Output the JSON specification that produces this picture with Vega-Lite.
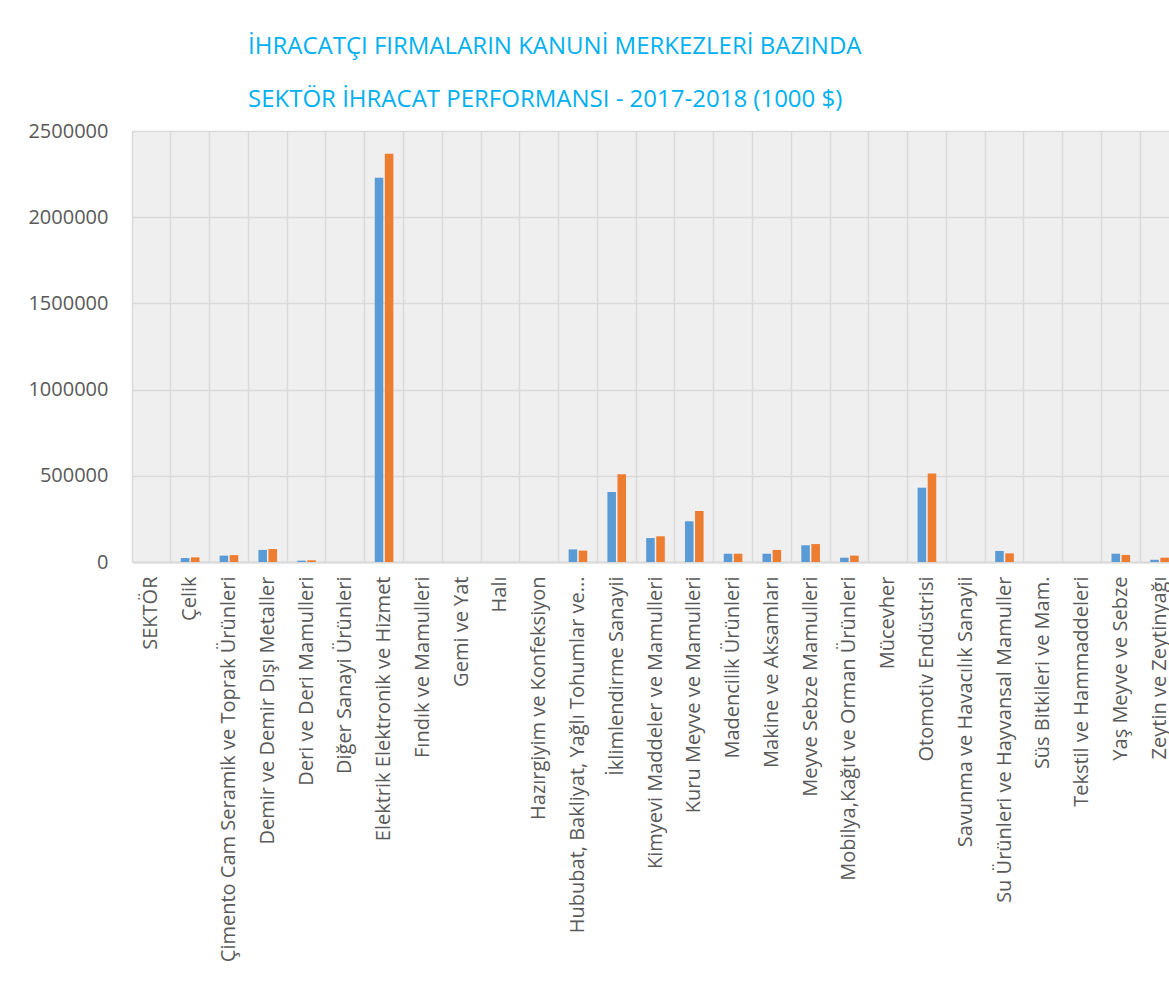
{
  "$schema": "https://vega.github.io/schema/vega-lite/v6.json",
  "autosize": {"type": "none"},
  "padding": {"left": 132, "top": 131, "right": -10, "bottom": 426},
  "width": 1047,
  "height": 431,
  "background": "white",
  "title": {
    "text": ["İHRACATÇI FIRMALARIN KANUNİ MERKEZLERİ BAZINDA", "SEKTÖR İHRACAT PERFORMANSI - 2017-2018 (1000 $)"],
    "anchor": "start",
    "frame": "group",
    "dx": 116,
    "offset": 9,
    "font": "Open Sans",
    "fontSize": 24,
    "fontWeight": "normal",
    "color": "#00B0F0",
    "lineHeight": 53
  },
  "data": {
    "values": [
      {"sektor": "SEKTÖR", "yil": "2017", "deger": 0},
      {"sektor": "SEKTÖR", "yil": "2018", "deger": 0},
      {"sektor": "Çelik", "yil": "2017", "deger": 23000},
      {"sektor": "Çelik", "yil": "2018", "deger": 27000},
      {"sektor": "Çimento Cam Seramik ve Toprak Ürünleri", "yil": "2017", "deger": 37000},
      {"sektor": "Çimento Cam Seramik ve Toprak Ürünleri", "yil": "2018", "deger": 40000},
      {"sektor": "Demir ve Demir Dışı Metaller", "yil": "2017", "deger": 70000},
      {"sektor": "Demir ve Demir Dışı Metaller", "yil": "2018", "deger": 75000},
      {"sektor": "Deri ve Deri Mamulleri", "yil": "2017", "deger": 8000},
      {"sektor": "Deri ve Deri Mamulleri", "yil": "2018", "deger": 10000},
      {"sektor": "Diğer Sanayi Ürünleri", "yil": "2017", "deger": 0},
      {"sektor": "Diğer Sanayi Ürünleri", "yil": "2018", "deger": 0},
      {"sektor": "Elektrik Elektronik ve Hizmet", "yil": "2017", "deger": 2229000},
      {"sektor": "Elektrik Elektronik ve Hizmet", "yil": "2018", "deger": 2368000},
      {"sektor": "Fındık ve Mamulleri", "yil": "2017", "deger": 0},
      {"sektor": "Fındık ve Mamulleri", "yil": "2018", "deger": 0},
      {"sektor": "Gemi ve Yat", "yil": "2017", "deger": 0},
      {"sektor": "Gemi ve Yat", "yil": "2018", "deger": 0},
      {"sektor": "Halı", "yil": "2017", "deger": 0},
      {"sektor": "Halı", "yil": "2018", "deger": 0},
      {"sektor": "Hazırgiyim ve Konfeksiyon", "yil": "2017", "deger": 0},
      {"sektor": "Hazırgiyim ve Konfeksiyon", "yil": "2018", "deger": 0},
      {"sektor": "Hububat, Bakliyat, Yağlı Tohumlar ve...", "yil": "2017", "deger": 73000},
      {"sektor": "Hububat, Bakliyat, Yağlı Tohumlar ve...", "yil": "2018", "deger": 66000},
      {"sektor": "İklimlendirme Sanayii", "yil": "2017", "deger": 406000},
      {"sektor": "İklimlendirme Sanayii", "yil": "2018", "deger": 509000},
      {"sektor": "Kimyevi Maddeler ve Mamulleri", "yil": "2017", "deger": 139000},
      {"sektor": "Kimyevi Maddeler ve Mamulleri", "yil": "2018", "deger": 149000},
      {"sektor": "Kuru Meyve ve Mamulleri", "yil": "2017", "deger": 236000},
      {"sektor": "Kuru Meyve ve Mamulleri", "yil": "2018", "deger": 296000},
      {"sektor": "Madencilik Ürünleri", "yil": "2017", "deger": 48000},
      {"sektor": "Madencilik Ürünleri", "yil": "2018", "deger": 48000},
      {"sektor": "Makine ve Aksamları", "yil": "2017", "deger": 48000},
      {"sektor": "Makine ve Aksamları", "yil": "2018", "deger": 70000},
      {"sektor": "Meyve Sebze Mamulleri", "yil": "2017", "deger": 97000},
      {"sektor": "Meyve Sebze Mamulleri", "yil": "2018", "deger": 104000},
      {"sektor": "Mobilya,Kağıt ve Orman Ürünleri", "yil": "2017", "deger": 25000},
      {"sektor": "Mobilya,Kağıt ve Orman Ürünleri", "yil": "2018", "deger": 37000},
      {"sektor": "Mücevher", "yil": "2017", "deger": 0},
      {"sektor": "Mücevher", "yil": "2018", "deger": 0},
      {"sektor": "Otomotiv Endüstrisi", "yil": "2017", "deger": 431000},
      {"sektor": "Otomotiv Endüstrisi", "yil": "2018", "deger": 513000},
      {"sektor": "Savunma ve Havacılık Sanayii", "yil": "2017", "deger": 0},
      {"sektor": "Savunma ve Havacılık Sanayii", "yil": "2018", "deger": 0},
      {"sektor": "Su Ürünleri ve Hayvansal Mamuller", "yil": "2017", "deger": 64000},
      {"sektor": "Su Ürünleri ve Hayvansal Mamuller", "yil": "2018", "deger": 50000},
      {"sektor": "Süs Bitkileri ve Mam.", "yil": "2017", "deger": 0},
      {"sektor": "Süs Bitkileri ve Mam.", "yil": "2018", "deger": 0},
      {"sektor": "Tekstil ve Hammaddeleri", "yil": "2017", "deger": 0},
      {"sektor": "Tekstil ve Hammaddeleri", "yil": "2018", "deger": 0},
      {"sektor": "Yaş Meyve ve Sebze", "yil": "2017", "deger": 48000},
      {"sektor": "Yaş Meyve ve Sebze", "yil": "2018", "deger": 41000},
      {"sektor": "Zeytin ve Zeytinyağı", "yil": "2017", "deger": 13000},
      {"sektor": "Zeytin ve Zeytinyağı", "yil": "2018", "deger": 25000}
    ]
  },
  "mark": {"type": "bar"},
  "encoding": {
    "x": {
      "field": "sektor",
      "type": "nominal",
      "sort": null,
      "title": null,
      "scale": {"paddingInner": 0, "paddingOuter": 0},
      "axis": {
        "labelAngle": -90,
        "labelAlign": "right",
        "labelBaseline": "middle",
        "labelFont": "Open Sans",
        "labelFontSize": 20,
        "labelColor": "#595959",
        "labelPadding": 14,
        "labelLimit": 600,
        "ticks": false,
        "grid": true,
        "bandPosition": 0,
        "gridColor": "#d9d9d9",
        "gridWidth": 1.5,
        "domain": true,
        "domainColor": "#d9d9d9",
        "domainWidth": 2
      }
    },
    "xOffset": {"field": "yil", "type": "nominal", "scale": {"paddingInner": 0.15, "paddingOuter": 1}},
    "y": {
      "field": "deger",
      "type": "quantitative",
      "title": null,
      "scale": {"domain": [0, 2500000], "nice": false},
      "axis": {
        "values": [0, 500000, 1000000, 1500000, 2000000, 2500000],
        "format": "d",
        "labelFont": "Open Sans",
        "labelFontSize": 20,
        "labelColor": "#595959",
        "labelPadding": 24,
        "ticks": false,
        "domain": false,
        "gridColor": "#d9d9d9",
        "gridWidth": 1.5
      }
    },
    "color": {
      "field": "yil",
      "type": "nominal",
      "scale": {"domain": ["2017", "2018"], "range": ["#5B9BD5", "#ED7D31"]},
      "legend": null
    }
  },
  "config": {
    "view": {"fill": "#efefef", "stroke": null}
  }
}
